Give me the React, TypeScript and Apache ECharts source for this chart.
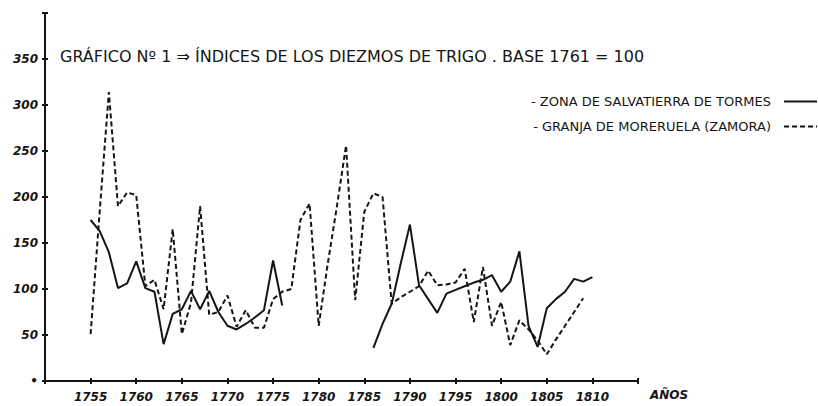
import React, { useEffect, useRef } from 'react';
import * as echarts from 'echarts';

const years = [
  1755, 1756, 1757, 1758, 1759, 1760, 1761, 1762, 1763, 1764,
  1765, 1766, 1767, 1768, 1769, 1770, 1771, 1772, 1773, 1774,
  1775, 1776, 1777, 1778, 1779, 1780, 1781, 1782, 1783, 1784,
  1785, 1786, 1787, 1788, 1789, 1790, 1791, 1792, 1793, 1794,
  1795, 1796, 1797, 1798, 1799, 1800, 1801, 1802, 1803, 1804,
  1805, 1806, 1807, 1808, 1809, 1810,
];

// Zona de Salvatierra de Tormes (solid)
const salvatierra = [
  175, 163, 140, 101, 106, 130, 101, 97, 40, 73,
  78, 98, 78, 98, 75, 60, 56, 62, 69, 77,
  131, 82, null, null, null, null, null, null, null, null,
  null, 36, 62, 84, 128, 170, 104, 89, 74, 95,
  99, 103, 107, 110, 115, 97, 108, 141, 60, 37,
  79, 89, 97, 111, 108, 113,
];

// Granja de Moreruela (Zamora) (dashed)
const moreruela = [
  51, 185, 314, 190, 205, 202, 103, 110, 78, 165,
  51, 85, 190, 72, 75, 93, 59, 77, 58, 58,
  89, 97, 100, 175, 193, 60, 128, 190, 256, 88,
  184, 204, 200, 84, 91, 97, 103, 120, 104, 105,
  107, 122, 64, 124, 60, 86, 39, 66, 56, 44,
  29, 45, 60, 75, 90, null,
];

const xTickLabels = ['1755', '1760', '1765', '1770', '1775', '1780', '1785', '1790', '1795', '1800', '1805', '1810'];
const seriesNames = ['- ZONA DE SALVATIERRA DE TORMES', '- GRANJA DE MORERUELA (ZAMORA)'];
const titleText = 'GRÁFICO Nº 1 ⇒ ÍNDICES DE LOS DIEZMOS DE TRIGO . BASE 1761 = 100';
const xName = 'AÑOS';

const INK = '#151515';
const FONT = 'DejaVu Sans';

export default function App() {
  const ref = useRef<HTMLDivElement>(null);
  useEffect(() => {
    if (!ref.current) return;
    const chart = echarts.init(ref.current, null, { renderer: 'svg' });
    const pairs = (vals: (number | null)[]) => years.map((y, i) => [y, vals[i]]);
    const yBase = {
      type: 'value' as const,
      min: 0,
      max: 400,
      interval: 50,
      splitLine: { show: false },
    };
    const xBase = {
      type: 'value' as const,
      min: 1750,
      max: 1815,
      interval: 5,
      splitLine: { show: false },
    };
    chart.setOption({
      animation: false,
      backgroundColor: '#ffffff',
      grid: { left: 45, right: 180, top: 13, bottom: 25, containLabel: false },
      xAxis: [
        {
          ...xBase,
          axisLine: { show: true, lineStyle: { color: INK, width: 2 } },
          axisTick: { show: true, length: 3, lineStyle: { color: INK, width: 2 } },
          axisLabel: {
            show: true,
            margin: 10,
            color: INK,
            fontFamily: FONT,
            fontStyle: 'italic',
            fontWeight: 'bold',
            fontSize: 12,
            formatter: (v: number) => {
              const s = String(v);
              return xTickLabels.indexOf(s) >= 0 ? s : '';
            },
          },
        },
        {
          ...xBase,
          position: 'bottom',
          axisLine: { show: false },
          axisTick: { show: true, inside: true, length: 3, lineStyle: { color: INK, width: 2 } },
          axisLabel: { show: false },
        },
      ],
      yAxis: [
        {
          ...yBase,
          axisLine: { show: true, lineStyle: { color: INK, width: 2 } },
          axisTick: { show: true, length: 3, lineStyle: { color: INK, width: 2 } },
          axisLabel: {
            show: true,
            margin: 7,
            color: INK,
            fontFamily: FONT,
            fontStyle: 'italic',
            fontWeight: 'bold',
            fontSize: 12,
            formatter: (v: number) => (v === 0 ? '•' : v === 400 ? '' : String(v)),
          },
        },
        {
          ...yBase,
          position: 'left',
          axisLine: { show: false },
          axisTick: { show: true, inside: true, length: 3, lineStyle: { color: INK, width: 2 } },
          axisLabel: { show: false },
        },
      ],
      legend: {
        orient: 'vertical',
        right: 0,
        top: 95,
        padding: 0,
        align: 'right',
        itemWidth: 33,
        itemHeight: 10,
        itemGap: 12,
        itemStyle: { opacity: 0 },
        textStyle: { fontFamily: FONT, fontSize: 13, color: INK, padding: [0, 8, 0, 0] },
        data: seriesNames,
      },
      graphic: [
        {
          type: 'text',
          left: 60,
          top: 48,
          style: { text: titleText, font: `16px "${FONT}"`, fill: INK },
        },
        {
          type: 'text',
          left: 650,
          top: 389,
          style: { text: xName, font: `italic bold 12px "${FONT}"`, fill: INK },
        },
      ],
      series: [
        {
          name: seriesNames[0],
          type: 'line',
          xAxisIndex: 0,
          yAxisIndex: 0,
          data: pairs(salvatierra),
          symbol: 'none',
          connectNulls: false,
          lineStyle: { color: INK, width: 2, type: 'solid' },
          itemStyle: { color: INK },
        },
        {
          name: seriesNames[1],
          type: 'line',
          xAxisIndex: 0,
          yAxisIndex: 0,
          data: pairs(moreruela),
          symbol: 'none',
          connectNulls: false,
          lineStyle: { color: INK, width: 2, type: [5, 3] },
          itemStyle: { color: INK },
        },
      ],
    });
    return () => chart.dispose();
  }, []);
  return (
    <div
      ref={ref}
      style={{ position: 'fixed', left: 0, top: 0, width: 818, height: 406, background: '#fff' }}
    />
  );
}
